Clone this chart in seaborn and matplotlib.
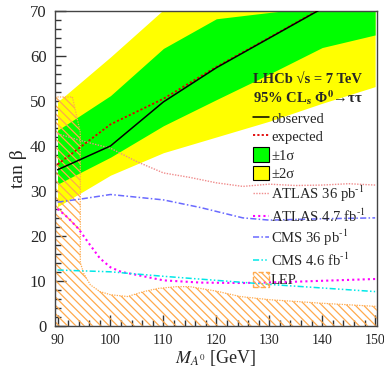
import numpy as np
import pandas as pd
import matplotlib.pyplot as plt
import seaborn as sns
from matplotlib.lines import Line2D
from matplotlib.patches import Patch
from matplotlib.ticker import MultipleLocator

# Limits (tan beta vs M_A)
mass = [90, 100, 110, 120, 130, 140, 150]
observed = [34.7, 40.0, 49.8, 57.4, 64.0, 70.6, 77.0]
expected = [35.9, 44.8, 50.5, 57.6, 64.1, 70.7, 77.0]
green_lo = [31.5, 37.5, 44.5, 50.3, 56.0, 61.9, 64.7]
green_hi = [43.5, 51.2, 61.7, 68.3, 69.7, 71.0, 72.5]
yellow_lo = [26.5, 33.5, 38.5, 42.0, 45.5, 49.5, 53.2]
yellow_hi = [49.8, 59.8, 70.3, 80.0, 85.0, 88.0, 90.0]

# Other experiments
atlas36_m = [90, 95, 100, 105, 110, 115, 120, 125, 130, 135, 140, 145, 150]
atlas36_t = [42.7, 41.0, 39.5, 36.5, 34.0, 33.0, 31.8, 31.0, 31.5, 31.2, 31.3, 31.6, 31.3]
atlas47_m = [90, 92, 94, 96, 98, 100, 102, 105, 110, 117, 125, 135, 150]
atlas47_t = [26.0, 24.0, 21.5, 18.2, 15.0, 13.0, 12.0, 11.3, 10.1, 9.6, 9.5, 9.8, 10.4]
cms36_m = [90, 95, 100, 110, 117, 125, 130, 140, 150]
cms36_t = [27.5, 28.3, 29.2, 28.0, 26.3, 24.0, 23.5, 23.8, 24.0]
cms46_m = [90, 100, 110, 120, 130, 140, 150]
cms46_t = [12.4, 12.0, 11.0, 10.1, 9.2, 8.4, 7.6]

# LEP excluded region boundary
lep_m = [89.5, 92.8, 94.3, 94.3, 95.0, 96.2, 98.0, 100.0, 103.2, 106.3, 109.0,
         112.5, 115.0, 120.0, 124.5, 130.0, 140.0, 150.3]
lep_t = [50.9, 50.9, 43.0, 14.0, 11.5, 9.1, 7.6, 6.9, 6.5, 7.6, 8.3,
         8.7, 8.7, 7.7, 6.5, 5.8, 5.0, 4.3]

sns.set_theme(style="ticks")
plt.rcParams["font.family"] = ["Liberation Serif", "DejaVu Serif"]
plt.rcParams["mathtext.fontset"] = "stix"
plt.rcParams["hatch.linewidth"] = 0.9

orange = "#ffaa4c"
fig = plt.figure(figsize=(3.84, 3.71), dpi=100)
ax = fig.add_axes([0.143, 0.122, 0.838, 0.848])

# bands
ax.fill_between(mass, yellow_lo, yellow_hi, color="#ffff00", lw=0, zorder=1)
ax.fill_between(mass, green_lo, green_hi, color="#00ff00", lw=0, zorder=1.1)

# LEP hatched region
ax.fill([lep_m[0]] + lep_m + [lep_m[-1]], [0] + lep_t + [0],
        facecolor="none", edgecolor=orange, hatch="\\\\\\\\", lw=0, zorder=2)
sns.lineplot(x=lep_m, y=lep_t, ax=ax, color=orange, lw=0.9, linestyle=(0, (1, 1)),
             sort=False, estimator=None, zorder=2.1)

# other experiments
sns.lineplot(x=atlas36_m, y=atlas36_t, ax=ax, color="#f08c8c", lw=1,
             linestyle=(0, (1, 1)), zorder=3)
sns.lineplot(x=atlas47_m, y=atlas47_t, ax=ax, color="#ff00ff", lw=1.5,
             linestyle=(0, (1, 1.5)), zorder=3)
sns.lineplot(x=cms36_m, y=cms36_t, ax=ax, color="#6a6aff", lw=1.1,
             linestyle=(0, (4, 1.5, 1, 1.5)), zorder=3)
sns.lineplot(x=cms46_m, y=cms46_t, ax=ax, color="#00e8e8", lw=1.1,
             linestyle=(0, (4, 1.5, 1, 1.5, 1, 1.5)), zorder=3)

# LHCb
sns.lineplot(x=mass, y=expected, ax=ax, color="#e00000", lw=1.3,
             linestyle=(0, (1.2, 1.2)), zorder=4)
sns.lineplot(x=mass, y=observed, ax=ax, color="black", lw=1.1, zorder=4.1)

ax.set_xlim(89.5, 150.3)
ax.set_ylim(0, 70)
ax.xaxis.set_major_locator(MultipleLocator(10))
ax.xaxis.set_minor_locator(MultipleLocator(2))
ax.yaxis.set_major_locator(MultipleLocator(10))
ax.yaxis.set_minor_locator(MultipleLocator(2))
ax.tick_params(which="both", direction="in", top=False, right=False,
               color="#333333", width=1)
ax.tick_params(which="major", length=8)
ax.tick_params(which="minor", length=4)
ax.tick_params(axis="x", labelsize=10, pad=6)
ax.tick_params(axis="y", labelsize=12, pad=6)
for s in ax.spines.values():
    s.set_color("#444444")
    s.set_linewidth(1)

ax.set_xlabel(r"$M_{A^{0}}$ [GeV]", fontsize=13, labelpad=1)
ax.set_ylabel("tan β", fontsize=14, labelpad=2)

handles = [
    Line2D([], [], color="black", lw=1.1),
    Line2D([], [], color="#e00000", lw=1.3, linestyle=(0, (1.2, 1.2))),
    Patch(facecolor="#00ff00", edgecolor="black", lw=0.8),
    Patch(facecolor="#ffff00", edgecolor="black", lw=0.8),
    Line2D([], [], color="#f08c8c", lw=1, linestyle=(0, (1, 1))),
    Line2D([], [], color="#ff00ff", lw=1.5, linestyle=(0, (1, 1.5))),
    Line2D([], [], color="#6a6aff", lw=1.1, linestyle=(0, (4, 1.5, 1, 1.5))),
    Line2D([], [], color="#00e8e8", lw=1.1, linestyle=(0, (4, 1.5, 1, 1.5, 1, 1.5))),
    Patch(facecolor="none", edgecolor=orange, hatch="\\\\\\\\\\\\", lw=1, linestyle="--"),
]
labels = ["observed", "expected", "±1σ", "±2σ",
          r"ATLAS 36 pb$^{\text{-1}}$", r"ATLAS 4.7 fb$^{\text{-1}}$",
          r"CMS 36 pb$^{\text{-1}}$", r"CMS 4.6 fb$^{\text{-1}}$", "LEP"]
leg = ax.legend(handles, labels, loc="upper left", bbox_to_anchor=(0.615, 0.804),
                frameon=False, fontsize=10.5, handlelength=1.1, handleheight=1.15,
                handletextpad=0.15, labelspacing=0.22, borderpad=0, borderaxespad=0,
                title="LHCb √s = 7 TeV\n95% CL$_{\\mathbf{s}}$ Φ$^{\\mathbf{0}}$→ττ",
                title_fontproperties={"weight": "bold", "size": 10.5},
                alignment="left")
leg.set_zorder(5)

fig.savefig("out.png", dpi=100)
